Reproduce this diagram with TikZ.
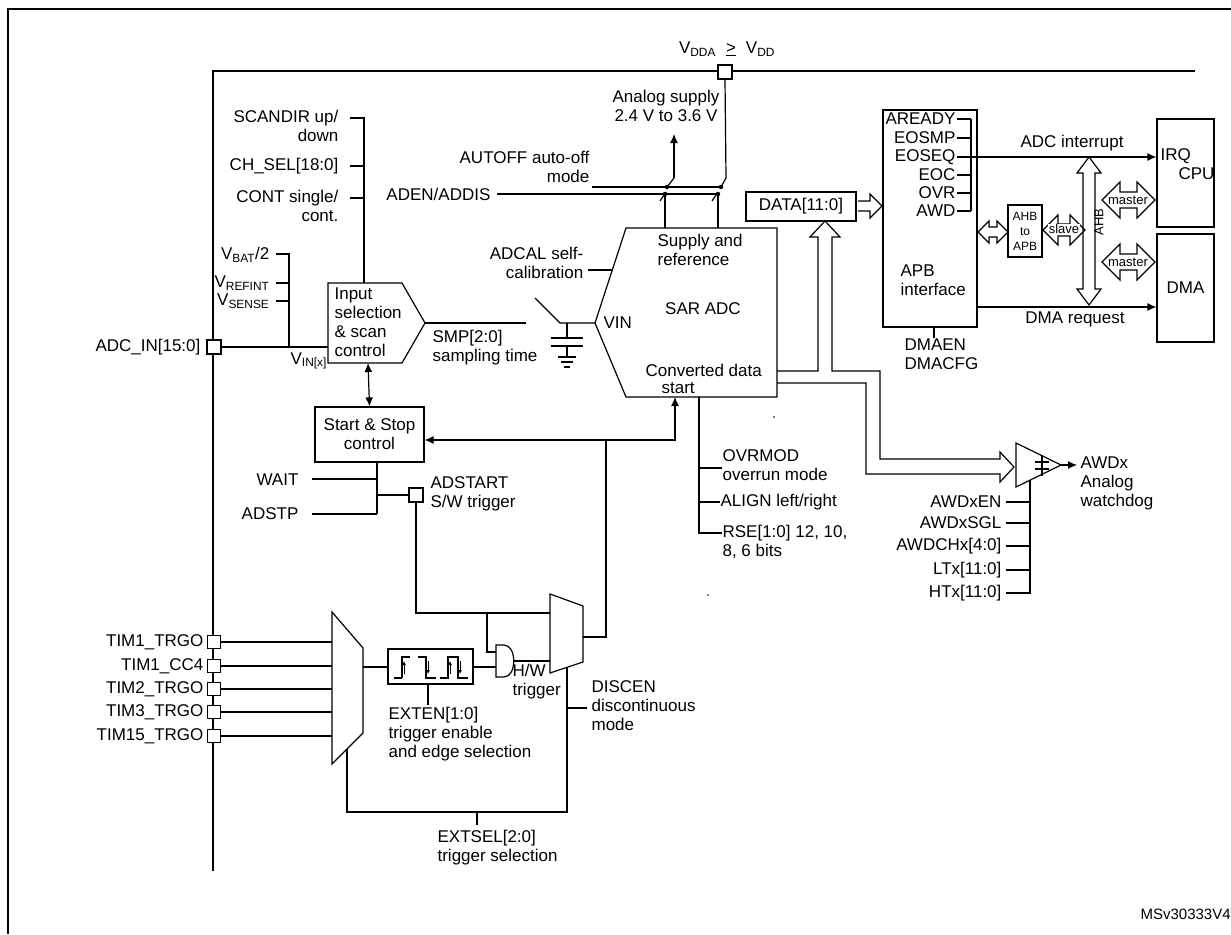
\documentclass[tikz,border=0pt]{standalone}
\usepackage{fontspec}
\setmainfont{Liberation Sans}
\usetikzlibrary{arrows.meta}
\begin{document}
\begin{tikzpicture}[x=1pt,y=-1pt,line width=1.2pt,
  txt/.style={inner sep=0pt,font=\fontsize{17}{19}\selectfont,align=left},
  sm/.style={inner sep=0pt,font=\fontsize{13}{14}\selectfont,align=center},
  box/.style={draw,inner sep=0pt},
  bus/.style={line width=2.8pt},
  arr/.style={-{Latex[length=9pt,width=8pt]}},
  pad/.style={draw,fill=white,line width=1.2pt,minimum size=14pt,inner sep=0pt}]
\useasboundingbox (0,0) rectangle (1231,934);
\clip (0,0) rectangle (1231,934);
% outer frame
\draw[line width=1.6pt] (8,934) -- (8,9) -- (1231,9);
\node[txt,anchor=west,font=\fontsize{15}{16}\selectfont] (msv) at (1140,914) {MSv30333V4};
% inner bus lines
\draw[bus] (213,871) -- (213,71) -- (1195,71);
% VDDA pad
\node[pad] (vdda) at (725,72) {};
\node[txt,anchor=base] (vlab) at (727,54) {V\textsubscript{DDA}\hspace{10pt}\underline{>}\hspace{10pt}V\textsubscript{DD}};
\node[txt,align=center] (asup) at (666,106) {Analog supply\\2.4 V to 3.6 V};
% switch
\coordinate (sw1) at (674,178);
\draw[arr] (sw1) -- (674,134);
\draw (sw1) -- (667,187);
\draw (vdda.south) -- (726,178) -- (721,187);
\draw (592,187) -- (722,187);
\node[txt,anchor=east,align=right] (autoff) at (590,167) {AUTOFF auto-off\\mode};
\node[txt,anchor=east] (aden) at (491,194) {ADEN/ADDIS};
\draw (aden.east) ++(6,0) -- (719,194);
\foreach \p in {(667,187),(665,194),(721,187),(718,194)} \fill \p circle (2.2);
\draw (660,201) -- (666,192);
\draw (712,201) -- (718,192);
\draw (665,194) -- (665,228);
\draw (718,194) -- (718,228);
% SAR ADC
\draw (626,228) -- (777,228) -- (777,397) -- (626,397) -- (595,323) -- cycle;
\node[txt,anchor=north west] (supref) at (657,234) {Supply and\\reference};
\node[txt] (sarlab) at (703,309) {SAR ADC};
\node[txt,anchor=west] (vin) at (603,323) {VIN};
\node[txt,anchor=west] (conv) at (645,370) {Converted data};
\node[txt,anchor=west] (start) at (661,388) {start};
\node[txt,anchor=east,align=right] (adcal) at (584,263) {ADCAL self-\\calibration};
\draw (588,270) -- (613,270);
% capacitor
\draw (535,298) -- (560,323) -- (595,323);
\draw (567,323) -- (567,338);
\draw (551,338) -- (583,338);
\draw (551,346) -- (583,346);
\draw (567,346) -- (567,357);
\draw (558,357) -- (576,357);
\draw (561,362) -- (573,362);
\draw (564,367) -- (570,367);
% input selection
\draw (328,283) -- (402,283) -- (425,323) -- (402,363) -- (328,363) -- cycle;
\node[txt,anchor=north west] (insel) at (334,287) {Input\\selection\\\& scan\\control};
\draw (425,323) -- (526,323);
\node[txt,anchor=north west] (smp) at (432,330) {SMP[2:0]\\sampling time};
% scandir group
\node[txt,anchor=east,align=right] (scan) at (339,126) {SCANDIR up/\\down};
\node[txt,anchor=east] (chsel) at (339,166) {CH\_SEL[18:0]};
\node[txt,anchor=east,align=right] (cont) at (339,206) {CONT single/\\cont.};
\draw (350,118) -- (364,118) -- (364,283);
\draw (350,166) -- (364,166);
\draw (350,198) -- (364,198);
% internal channels
\node[txt,anchor=east] (vbat) at (270,255) {V\textsubscript{BAT}/2};
\node[txt,anchor=east] (vref) at (270,283) {V\textsubscript{REFINT}};
\node[txt,anchor=east] (vsen) at (270,301) {V\textsubscript{SENSE}};
\draw (276,254) -- (289,254) -- (289,347);
\draw (276,283) -- (289,283);
\draw (276,301) -- (289,301);
\node[pad] (adcin) at (214,347) {};
\node[txt,anchor=east] (adcinl) at (201,347) {ADC\_IN[15:0]};
\draw (adcin.east) -- (328,347);
\node[txt,anchor=west] (vinx) at (290,361) {V\textsubscript{IN[x]}};
% start stop
\node[box,minimum width=109pt,minimum height=55pt,txt,align=center] (ss) at (369.5,434.5) {Start \& Stop\\control};
\draw[{Latex[length=9pt,width=8pt]}-{Latex[length=9pt,width=8pt]}] (368,363) -- (ss.north);
\draw (377,462) -- (377,514);
\node[txt,anchor=east] (wait) at (299,480) {WAIT};
\node[txt,anchor=east] (adstp) at (299,514) {ADSTP};
\draw (312,479) -- (377,479);
\draw (312,514) -- (377,514);
\node[pad] (adst) at (416,495) {};
\draw (377,495) -- (adst.west);
\node[txt,anchor=north west] (adstl) at (430,476) {ADSTART\\S/W trigger};
\draw (adst.south) -- (416,613) -- (550,613);
\draw (487,613) -- (487,652) -- (496,652);
% AND gate
\draw (496,645) -- (504,645) .. controls (517,645) and (517,677) .. (504,677) -- (496,677) -- cycle;
\draw (513,661) -- (550,661);
\node[txt,anchor=north west] (hw) at (512,664) {H/W\\trigger};
% mux2
\draw (550,594) -- (583,606) -- (583,662) -- (550,673) -- cycle;
\draw (583,637) -- (606,637) -- (606,440);
\draw[arr] (675,440) -- (ss.east |- 0,440);
\draw[arr] (606,440) -- (675,440) -- (675,397);
% edge box
\node[box,minimum width=85pt,minimum height=35pt] (edge) at (430.5,666.5) {};
\draw (402,678)--(402,657)--(410,657) (394,678)--(402,678);
\draw[-{Latex[length=4pt,width=4pt]},line width=0.8pt] (404,674)--(404,661);
\draw (418,657)--(426,657)--(426,678)--(436,678);
\draw[-{Latex[length=4pt,width=4pt]},line width=0.8pt] (428,661)--(428,674);
\draw (440,678)--(448,678)--(448,657)--(458,657)--(458,678)--(468,678);
\draw[-{Latex[length=4pt,width=4pt]},line width=0.8pt] (450,674)--(450,661);
\draw[-{Latex[length=4pt,width=4pt]},line width=0.8pt] (460,661)--(460,674);
\draw (edge.east |- 0,667) -- (496,667);
\draw (428,684) -- (428,705);
\node[txt,anchor=north west] (exten) at (388,707) {EXTEN[1:0]\\trigger enable\\and edge selection};
% mux1
\draw (332,612) -- (363,648) -- (363,733) -- (332,764) -- cycle;
\draw (363,667) -- (edge.west |- 0,667);
\foreach \y/\n [count=\i] in {642/TIM1\_TRGO,666/TIM1\_CC4,689/TIM2\_TRGO,712/TIM3\_TRGO,736/TIM15\_TRGO}{
  \node[pad,minimum size=13pt] (t\i) at (214,\y) {};
  \node[txt,anchor=east] (tl\i) at (204,\y) {\n};
  \draw (t\i.east) -- (332,\y);
}
\draw (347,749) -- (347,812) -- (567,812) -- (567,667);
\draw (477,812) -- (477,825);
\node[txt,anchor=north west] (extsel) at (437,830) {EXTSEL[2:0]\\trigger selection};
\draw (567,708) -- (587,708);
\node[txt,anchor=north west] (discen) at (591,680) {DISCEN\\discontinuous\\mode};
% SAR bottom config
\draw (699,397) -- (699,533) -- (722,533);
\draw (699,468) -- (722,468);
\draw (699,502) -- (720,502);
\node[txt,anchor=north west] (ovr) at (722,449) {OVRMOD\\overrun mode};
\node[txt,anchor=west] (align) at (720,502) {ALIGN left/right};
\node[txt,anchor=north west] (rse) at (722,525) {RSE[1:0] 12, 10,\\8, 6 bits};
\fill (774,417) circle (0.9);
\fill (708,595) circle (0.9);
% data bus
\node[box,minimum width=110pt,minimum height=29pt,txt] (data) at (801,206.5) {DATA[11:0]};
\draw (858,201) -- (870,201) -- (870,194) -- (882,206) -- (870,218) -- (870,211) -- (858,211);
\draw (777,371) -- (818,371) -- (818,237) -- (810,237) -- (825,221) -- (840,237) -- (832,237) -- (832,371) -- (880,371) -- (880,459) -- (1000,459) -- (1000,452) -- (1014,467) -- (1000,482) -- (1000,474) -- (866,474) -- (866,383) -- (777,383);
% comparator
\draw (1016,443) -- (1061,465) -- (1016,487) -- cycle;
\draw (1042,455) -- (1042,476);
\draw (1035,462) -- (1049,462);
\draw (1035,469) -- (1049,469);
\draw[arr] (1061,465) -- (1077,465);
\node[txt,anchor=north west] (awdx) at (1080,456) {AWDx\\Analog\\watchdog};
\draw (1030,480) -- (1030,594);
\foreach \y/\n [count=\i] in {502/AWDxEN,523/AWDxSGL,546/AWDCHx[4:0],570/LTx[11:0],593/HTx[11:0]}{
  \node[txt,anchor=east] (aw\i) at (1002,\y) {\n};
  \draw (1006,\y) -- (1030,\y);
}
% APB
\node[box,minimum width=94pt,minimum height=217pt] (apb) at (930,218.5) {};
\node[txt,anchor=north west] (apbl) at (900,264) {APB\\interface};
\foreach \y/\n [count=\i] in {119/AREADY,138/EOSMP,157/EOSEQ,175/EOC,193/OVR,211/AWD}{
  \node[txt,anchor=east] (f\i) at (956,\y) {\n};
  \draw (957,\y) -- (971,\y);
}
\draw (971,119) -- (971,211);
\node[box,minimum width=57pt,minimum height=108pt] (irq) at (1185.5,173) {};
\node[txt,anchor=west] (irql) at (1160,156) {IRQ};
\node[txt,anchor=west] (cpul) at (1178,174) {CPU};
\node[box,minimum width=57pt,minimum height=108pt,txt] (dma) at (1185.5,288) {DMA};
\draw[arr] (971,157) -- (irq.west |- 0,157);
\node[txt] (adcint) at (1072,143) {ADC interrupt};
\draw[arr] (apb.east |- 0,307) -- (dma.west |- 0,307);
\node[txt] (dmareq) at (1075,319) {DMA request};
\draw (934,327) -- (934,338);
\node[txt,anchor=north west] (dmaen) at (904,338) {DMAEN\\DMACFG};
% AHB
\draw (1089,157) -- (1101,173) -- (1095,173) -- (1095,289) -- (1101,289) -- (1089,305) -- (1077,289) -- (1083,289) -- (1083,173) -- (1077,173) -- cycle;
\node[sm,rotate=90] (ahbl) at (1099,222) {AHB};
\node[box,minimum width=34pt,minimum height=52pt,sm,font=\fontsize{12}{15}\selectfont] (a2a) at (1025,231) {AHB\\to\\APB};
\newcommand\hdbl[5]{\draw (#1,#3) -- ({#1+#4},{#3-#4}) -- ({#1+#4},{#3-#5}) -- ({#2-#4},{#3-#5}) -- ({#2-#4},{#3-#4}) -- (#2,#3) -- ({#2-#4},{#3+#4}) -- ({#2-#4},{#3+#5}) -- ({#1+#4},{#3+#5}) -- ({#1+#4},{#3+#4}) -- cycle;}
\hdbl{978}{1008}{232}{11}{5}
\hdbl{1043}{1085}{230}{15}{6}
\node[sm,fill=white,inner sep=0.5pt] (slave) at (1064,229) {slave};
\hdbl{1102}{1155}{200}{18}{8}
\node[sm,fill=white,inner sep=0.5pt] (m1) at (1128,200) {master};
\hdbl{1102}{1155}{262}{18}{8}
\node[sm,fill=white,inner sep=0.5pt] (m2) at (1128,262) {master};
\end{tikzpicture}
\end{document}
